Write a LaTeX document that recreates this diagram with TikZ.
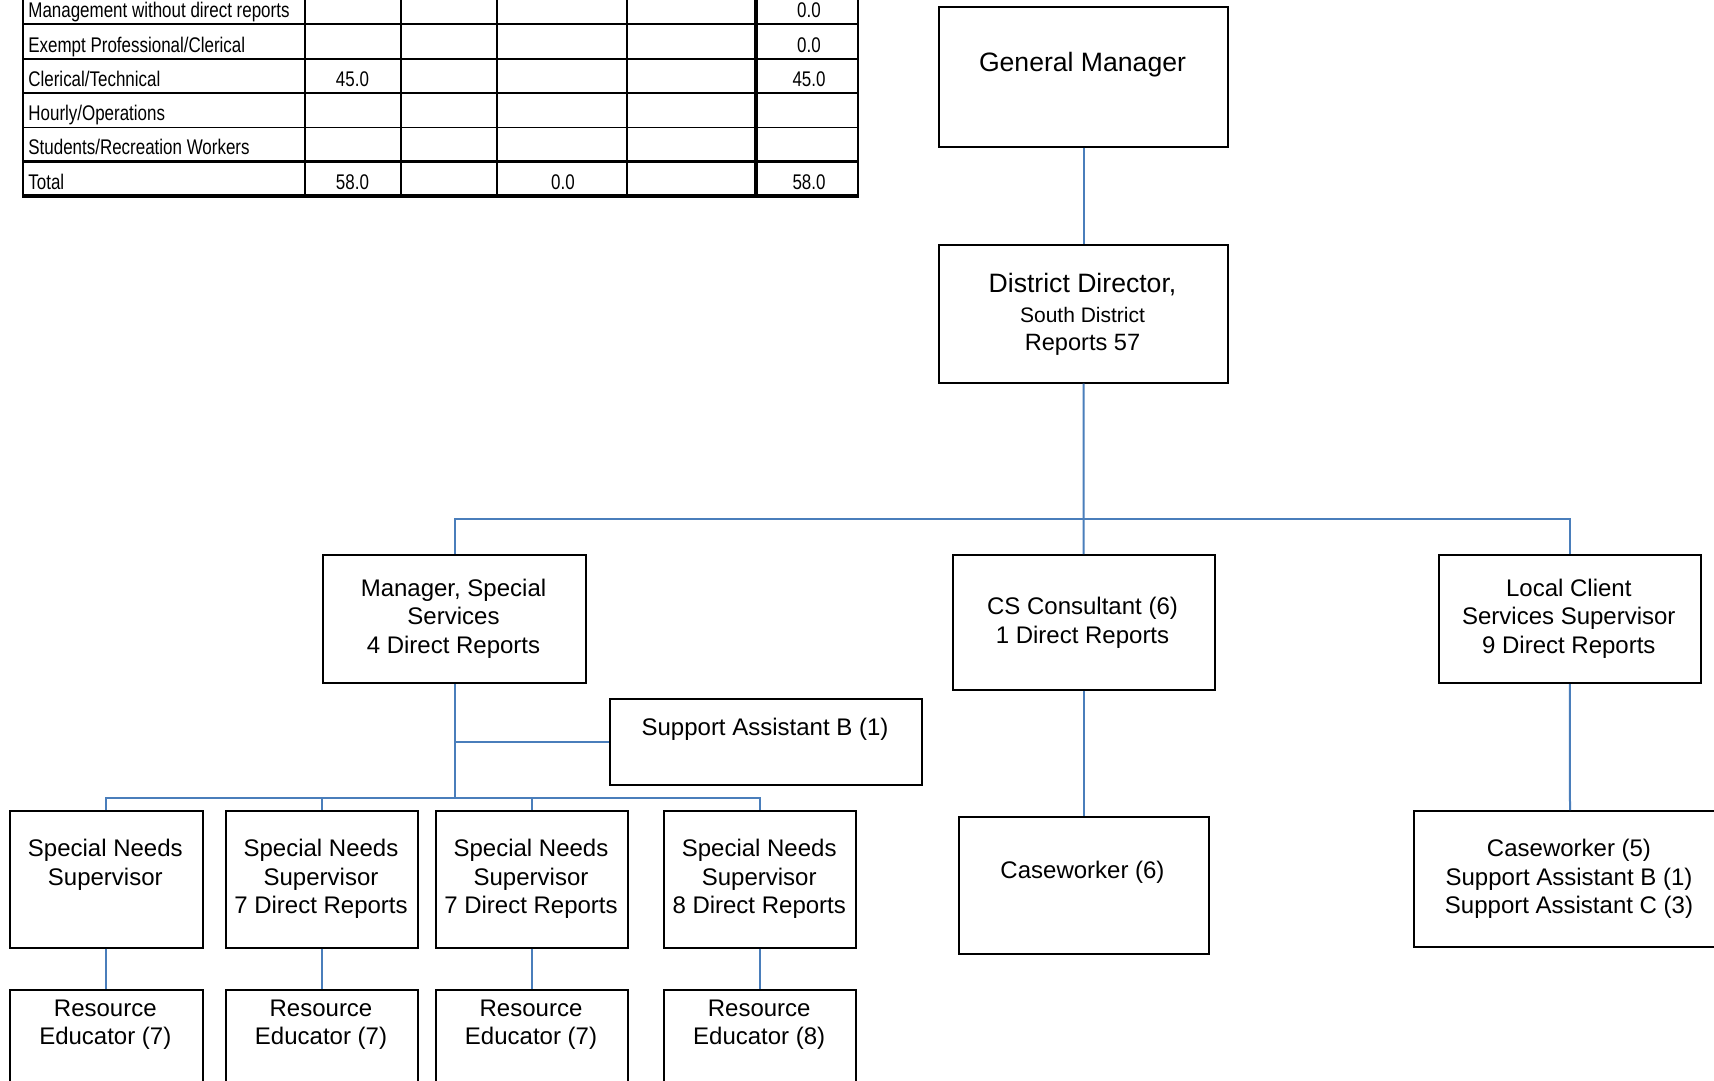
\documentclass[tikz,border=0pt]{standalone}
\usepackage{fontspec}
\setmainfont{Liberation Sans}
\newfontfamily\tablefont[FakeStretch=0.8]{Liberation Sans}
\definecolor{linkblue}{RGB}{74,126,187}

\begin{document}
\begin{tikzpicture}[x=0.5pt,y=-0.5pt,
  orgbox/.style 2 args={draw=black, line width=1pt, fill=white, inner sep=0pt,
    anchor=north west, minimum width=#1*0.5pt, minimum height=#2*0.5pt},
  lbl/.style={anchor=base, align=center, inner sep=0pt,
    font=\fontsize{12}{14.15}\selectfont},
  biglbl/.style={anchor=base, inner sep=0pt, font=\fontsize{13.3}{15}\selectfont},
  link/.style={draw=linkblue, line width=1pt},
  gridline/.style={line width=0.9pt},
  heavyline/.style={line width=1.8pt},
  rowlbl/.style={anchor=base west, inner sep=0pt, font=\tablefont\fontsize{10.6}{12}\selectfont},
  cellnum/.style={anchor=base, inner sep=0pt, font=\tablefont\fontsize{10.6}{12}\selectfont}]

\path[use as bounding box, clip] (0,0) rectangle (1714,1081);
\fill[white] (0,0) rectangle (1714,1081);

% ---------- staffing summary table ----------
\foreach \y in {24.4,59,93.3,127.5}
  \draw[gridline] (22.7,\y) -- (858.3,\y);
\foreach \y in {161.7,196}
  \draw[heavyline] (21.8,\y) -- (859.2,\y);
\foreach \x in {22.7,305,401,496.7,626.7,858.3}
  \draw[gridline] (\x,-12) -- (\x,196);
\draw[heavyline] (755.7,-12) -- (755.7,196);

\node[rowlbl] (r1) at (28,17.5) {Management without direct reports};
\node[rowlbl] (r2) at (28,52.2) {Exempt Professional/Clerical};
\node[rowlbl] (r3) at (28,86.5) {Clerical/Technical};
\node[rowlbl] (r4) at (28,120.7) {Hourly/Operations};
\node[rowlbl] (r5) at (28,154.9) {Students/Recreation Workers};
\node[rowlbl] (r6) at (28,189.5) {Total};

\node[cellnum] (r1t) at (809,17.5) {0.0};
\node[cellnum] (r2t) at (809,52.2) {0.0};
\node[cellnum] (r3a) at (352.5,86.5) {45.0};
\node[cellnum] (r3t) at (809,86.5) {45.0};
\node[cellnum] (r6a) at (352.5,189.5) {58.0};
\node[cellnum] (r6c) at (563,189.5) {0.0};
\node[cellnum] (r6t) at (809,189.5) {58.0};

% ---------- organisation chart boxes ----------
\node[orgbox={288.4}{140}] (gm) at (938.3,5.7) {};
\node[orgbox={288.4}{137.7}] (dd) at (938.3,244) {};
\node[orgbox={263}{128}] (mss) at (322,554) {};
\node[orgbox={262}{135}] (csc) at (951.5,554) {};
\node[orgbox={262.5}{128}] (lcs) at (1437.5,554) {};
\node[orgbox={312}{86}] (sab) at (609,698) {};
\node[orgbox={192.8}{136.5}] (sn1) at (8.9,810) {};
\node[orgbox={192}{136.5}] (sn2) at (225,810) {};
\node[orgbox={192.2}{136.5}] (sn3) at (434.8,810) {};
\node[orgbox={192.3}{136.5}] (sn4) at (663,810) {};
\node[orgbox={192.8}{130}] (re1) at (8.9,989.3) {};
\node[orgbox={192}{130}] (re2) at (225,989.3) {};
\node[orgbox={192.2}{130}] (re3) at (434.8,989.3) {};
\node[orgbox={192.3}{130}] (re4) at (663,989.3) {};
\node[orgbox={250}{136.6}] (cw6) at (957.5,816.4) {};
\node[orgbox={312}{136}] (cw5) at (1413,810) {};

% ---------- box texts (positioned by the baseline of their last line) ----------
\node[biglbl] (gm-t) at (1082.5,71.7) {General Manager};
\node[biglbl] (dd-t1) at (1082.5,292) {District Director,};
\node[anchor=base, inner sep=0pt, font=\fontsize{10.5}{12}\selectfont] (dd-t2) at (1082.5,322) {South District};
\node[anchor=base, inner sep=0pt, font=\fontsize{11.8}{14}\selectfont] (dd-t3) at (1082.5,350.7) {Reports 57};
\node[lbl] (mss-t) at (453.5,653) {Manager, Special\\Services\\4 Direct Reports};
\node[lbl] (csc-t) at (1082.5,643) {CS Consultant (6)\\1 Direct Reports};
\node[lbl] (lcs-t) at (1568.8,653) {Local Client\\Services Supervisor\\9 Direct Reports};
\node[lbl] (sab-t) at (765,735) {Support Assistant B (1)};
\node[lbl] (sn1-t) at (105.3,885) {Special Needs\\Supervisor};
\node[lbl] (sn2-t) at (321,913.4) {Special Needs\\Supervisor\\7 Direct Reports};
\node[lbl] (sn3-t) at (531,913.4) {Special Needs\\Supervisor\\7 Direct Reports};
\node[lbl] (sn4-t) at (759.2,913.4) {Special Needs\\Supervisor\\8 Direct Reports};
\node[lbl] (re1-t) at (105.3,1044.5) {Resource\\Educator (7)};
\node[lbl] (re2-t) at (321,1044.5) {Resource\\Educator (7)};
\node[lbl] (re3-t) at (531,1044.5) {Resource\\Educator (7)};
\node[lbl] (re4-t) at (759.2,1044.5) {Resource\\Educator (8)};
\node[lbl] (cw6-t) at (1082.5,878) {Caseworker (6)};
\node[lbl] (cw5-t) at (1569,913.3) {Caseworker (5)\\Support Assistant B (1)\\Support Assistant C (3)};

% ---------- reporting lines ----------
\coordinate (topbus) at (0,519);
\coordinate (snbus) at (0,798);

\draw[link] (gm.south) -- (dd.north);
\draw[link] (dd.south) -- (csc.north);
\draw[link] (mss.north) -- (mss.north |- topbus) -- (lcs.north |- topbus) -- (lcs.north);

\draw[link] (mss.south) -- (mss.south |- snbus);
\draw[link] (mss.south |- sab.west) -- (sab.west);
\draw[link] (sn1.north) -- (sn1.north |- snbus) -- (sn4.north |- snbus) -- (sn4.north);
\draw[link] (sn2.north) -- (sn2.north |- snbus);
\draw[link] (sn3.north) -- (sn3.north |- snbus);

\draw[link] (sn1.south) -- (re1.north);
\draw[link] (sn2.south) -- (re2.north);
\draw[link] (sn3.south) -- (re3.north);
\draw[link] (sn4.south) -- (re4.north);

\draw[link] (csc.south) -- (cw6.north);
\draw[link] (lcs.south) -- (cw5.north);
\end{tikzpicture}
\end{document}
